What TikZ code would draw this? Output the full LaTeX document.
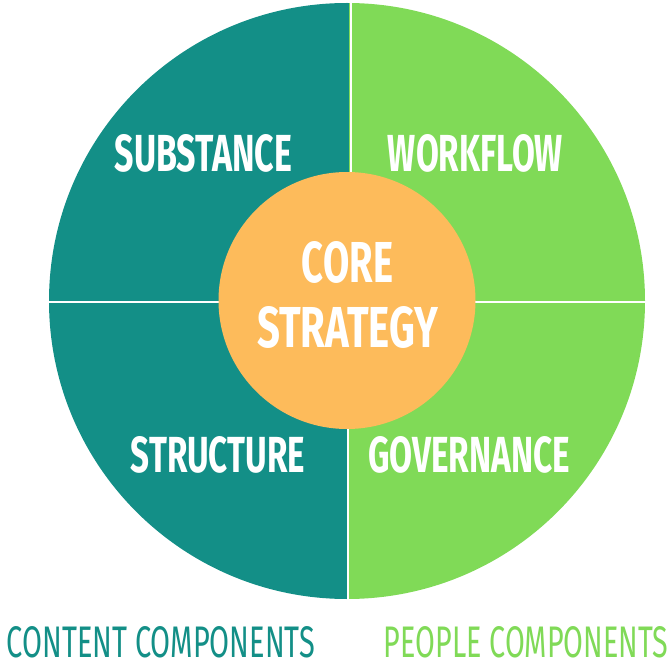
\documentclass[tikz,border=0pt]{standalone}
\usepackage{fontspec}
\setmainfont{Fira Sans}
\usepackage{graphicx}
\definecolor{tealc}{HTML}{138F87}
\definecolor{greenc}{HTML}{80DA57}
\definecolor{orangec}{HTML}{FDBB5B}
\begin{document}
\begin{tikzpicture}[x=1pt,y=-1pt,
  lbl/.style={inner sep=0pt,outer sep=0pt,text=white,font=\bfseries},
  foot/.style={inner sep=0pt,outer sep=0pt}]
\useasboundingbox[fill=white] (0,0) rectangle (670,663);
\coordinate (c) at (347,301);
\begin{scope}
  \clip (0,0) rectangle (349,663);
  \fill[tealc] (c) circle[radius=298];
\end{scope}
\begin{scope}
  \clip (349,0) rectangle (670,663);
  \fill[greenc] (c) circle[radius=298];
\end{scope}
\coordinate (t1) at (350.5,0);
\coordinate (t2) at (350.5,302);
\coordinate (b1) at (348.3,302);
\coordinate (b2) at (348.3,610);
\coordinate (l1) at (40,302);
\coordinate (l2) at (660,302);
\draw[white,line width=2pt] (t1) -- (t2);
\draw[white,line width=2pt] (b1) -- (b2);
\draw[white,line width=2pt] (l1) -- (l2);
\fill[orangec] (347,300.5) circle[radius=128.5];
\node[lbl] (sub) at (203.5,153.5) {\resizebox{177pt}{37pt}{SUBSTANCE}};
\node[lbl] (wf) at (475.5,153.5) {\resizebox{175pt}{37pt}{WORKFLOW}};
\node[lbl] (str) at (218,455) {\resizebox{174pt}{36pt}{STRUCTURE}};
\node[lbl] (gov) at (469,455) {\resizebox{202pt}{36pt}{GOVERNANCE}};
\node[lbl] (core) at (347.5,262.5) {\resizebox{91pt}{41pt}{CORE}};
\node[lbl] (strat) at (347.5,327.5) {\resizebox{181pt}{41pt}{STRATEGY}};
\node[foot,text=tealc] (cc) at (161,642.5) {\resizebox{308pt}{31pt}{CONTENT COMPONENTS}};
\node[foot,text=greenc] (pc) at (526,642.5) {\resizebox{284pt}{31pt}{PEOPLE COMPONENTS}};
\end{tikzpicture}
\end{document}
